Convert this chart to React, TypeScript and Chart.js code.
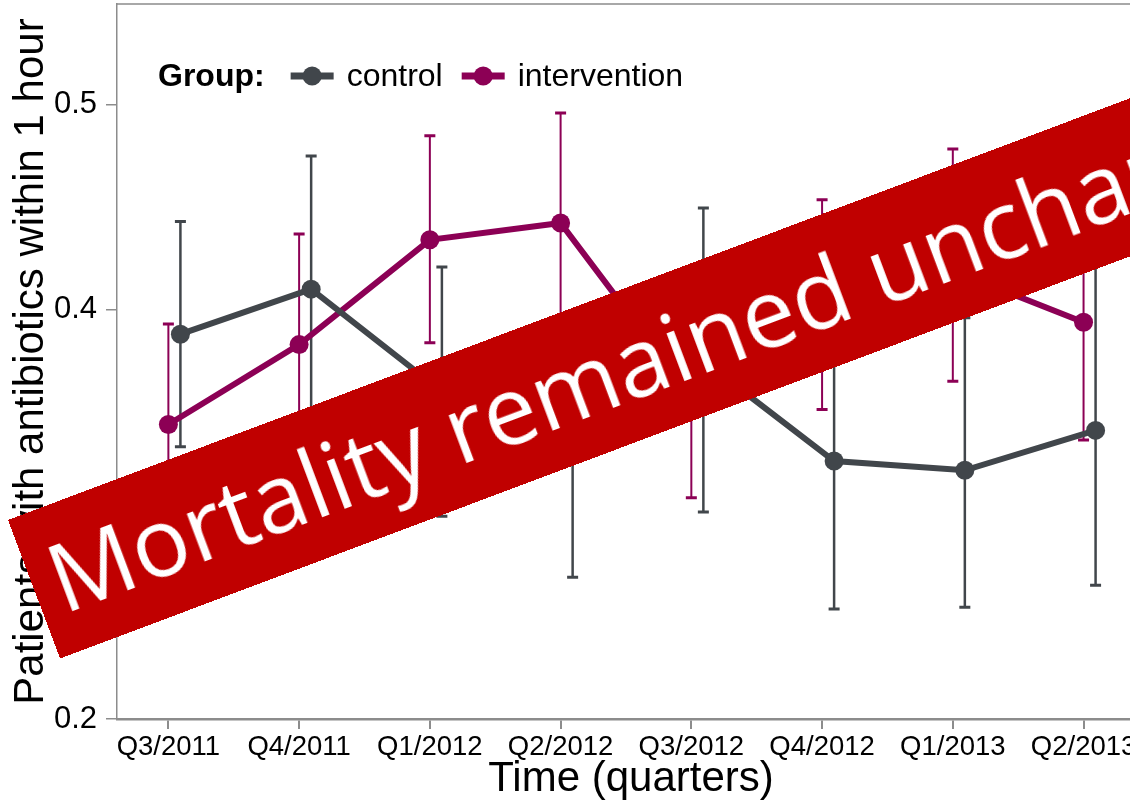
import React, { useEffect, useRef } from "react";
import { Chart, registerables } from "chart.js";

Chart.register(...registerables);

// ---- data ----
const categories = ["Q3/2011", "Q4/2011", "Q1/2012", "Q2/2012", "Q3/2012", "Q4/2012", "Q1/2013", "Q2/2013"];

const controlMean = [0.388, 0.410, 0.360, 0.334, 0.375, 0.326, 0.3215, 0.341];
const controlLow = [0.333, 0.3445, 0.299, 0.2693, 0.3011, 0.2537, 0.2546, 0.2654];
const controlHigh = [0.443, 0.4751, 0.4208, 0.398, 0.4496, 0.398, 0.396, 0.422];

const interventionMean = [0.3439, 0.3829, 0.4341, 0.4423, 0.3576, 0.4024, 0.419, 0.3938];
const interventionLow = [0.2948, 0.329, 0.3838, 0.3885, 0.3081, 0.3512, 0.365, 0.3363];
const interventionHigh = [0.393, 0.4369, 0.4849, 0.4961, 0.407, 0.4537, 0.4785, 0.4514];

const seriesNames = ["control", "intervention"];
const legendTitle = "Group:";
const yTicks = [0.2, 0.3, 0.4, 0.5];
const xTitle = "Time (quarters)";
const yTitle = "Patients with antibiotics within 1 hour";
const bannerText = "Mortality remained unchanged";

// ---- styling ----
const CONTROL_COLOR = "#41464b";
const INTERVENTION_COLOR = "#8c0055";
const AXIS_GRAY = "#8c8c8c";
const FONT = "'Liberation Sans', Arial, sans-serif";
const CONTROL_DODGE = 0.092;

export default function App() {
  const canvasRef = useRef<HTMLCanvasElement | null>(null);

  useEffect(() => {
    const canvas = canvasRef.current;
    if (!canvas) return;

    const series = [
      { name: seriesNames[0], mean: controlMean, lo: controlLow, hi: controlHigh, color: CONTROL_COLOR, dodge: CONTROL_DODGE, barWidth: 2.5 },
      { name: seriesNames[1], mean: interventionMean, lo: interventionLow, hi: interventionHigh, color: INTERVENTION_COLOR, dodge: 0, barWidth: 2 },
    ];

    const errorBarPlugin = {
      id: "errorBars",
      beforeDatasetsDraw(chart: any) {
        const { ctx, scales } = chart;
        const xs = scales.x;
        const ys = scales.y;
        ctx.save();
        series.forEach((s) => {
          ctx.strokeStyle = s.color;
          s.mean.forEach((_, i) => {
            const px = xs.getPixelForValue(i + s.dodge);
            const pLo = ys.getPixelForValue(s.lo[i]);
            const pHi = ys.getPixelForValue(s.hi[i]);
            ctx.lineWidth = s.barWidth;
            ctx.beginPath();
            ctx.moveTo(px, pLo);
            ctx.lineTo(px, pHi);
            ctx.stroke();
            ctx.lineWidth = 3;
            ctx.beginPath();
            ctx.moveTo(px - 5.5, pLo);
            ctx.lineTo(px + 5.5, pLo);
            ctx.moveTo(px - 5.5, pHi);
            ctx.lineTo(px + 5.5, pHi);
            ctx.stroke();
          });
        });
        ctx.restore();
      },
    };

    const frameLegendPlugin = {
      id: "frameLegend",
      afterDraw(chart: any) {
        const { ctx, chartArea } = chart;
        ctx.save();
        ctx.strokeStyle = AXIS_GRAY;
        ctx.lineWidth = 1.5;
        ctx.beginPath();
        ctx.moveTo(chartArea.left, chartArea.top);
        ctx.lineTo(chartArea.right, chartArea.top);
        ctx.lineTo(chartArea.right, chartArea.bottom);
        ctx.stroke();

        const baseY = 86;
        const midY = 76;
        let x = chartArea.left + 41;
        ctx.fillStyle = "#000";
        ctx.textBaseline = "alphabetic";
        ctx.textAlign = "left";
        ctx.font = `bold 32px ${FONT}`;
        ctx.fillText(legendTitle, x, baseY);
        x += ctx.measureText(legendTitle).width + 26;
        ctx.font = `32px ${FONT}`;
        series.forEach((s) => {
          ctx.strokeStyle = s.color;
          ctx.fillStyle = s.color;
          ctx.lineWidth = 7;
          ctx.beginPath();
          ctx.moveTo(x, midY);
          ctx.lineTo(x + 43, midY);
          ctx.stroke();
          ctx.beginPath();
          ctx.arc(x + 21.5, midY, 9.5, 0, Math.PI * 2);
          ctx.fill();
          x += 43 + 13;
          ctx.fillStyle = "#000";
          ctx.fillText(s.name, x, baseY);
          x += ctx.measureText(s.name).width + 19;
        });
        ctx.restore();
      },
    };

    const chart = new Chart(canvas, {
      type: "line",
      data: {
        datasets: series.map((s) => ({
          label: s.name,
          data: s.mean.map((v, i) => ({ x: i + s.dodge, y: v })),
          borderColor: s.color,
          backgroundColor: s.color,
          pointBackgroundColor: s.color,
          pointBorderWidth: 0,
          pointRadius: 9.5,
          borderWidth: 6,
          tension: 0,
          fill: false,
        })),
      },
      options: {
        animation: false,
        responsive: false,
        maintainAspectRatio: false,
        layout: { autoPadding: false, padding: { left: 0, top: 4, right: 15, bottom: 0 } },
        plugins: { legend: { display: false }, tooltip: { enabled: false } },
        scales: {
          x: {
            type: "linear",
            min: -0.393,
            max: 7.47,
            afterBuildTicks: (scale: any) => {
              scale.ticks = categories.map((_, i) => ({ value: i }));
            },
            afterFit: (scale: any) => {
              scale.height = 84;
              scale.paddingLeft = 0;
              scale.paddingRight = 0;
            },
            ticks: {
              autoSkip: false,
              maxRotation: 0,
              minRotation: 0,
              padding: 2,
              color: "#000",
              font: { family: FONT, size: 27.5 },
              callback: (v: any) => categories[Math.round(Number(v))] ?? "",
            },
            grid: { drawOnChartArea: false, drawTicks: true, tickLength: 10, color: AXIS_GRAY, lineWidth: 2 },
            border: { display: true, color: AXIS_GRAY, width: 2.5 },
            title: {
              display: true,
              text: xTitle,
              color: "#000",
              font: { family: FONT, size: 42 },
              padding: { top: 0, bottom: -2 },
            },
          },
          y: {
            type: "linear",
            min: 0.2,
            max: 0.5493,
            afterBuildTicks: (scale: any) => {
              scale.ticks = yTicks.map((v) => ({ value: v }));
            },
            afterFit: (scale: any) => {
              scale.width = 117;
              scale.paddingTop = 0;
              scale.paddingBottom = 0;
            },
            ticks: {
              padding: 9,
              color: "#000",
              font: { family: FONT, size: 31 },
              callback: (v: any) => Number(v).toFixed(1),
            },
            grid: { drawOnChartArea: false, drawTicks: true, tickLength: 11, color: AXIS_GRAY, lineWidth: 1.5 },
            border: { display: true, color: AXIS_GRAY, width: 1.5 },
            title: {
              display: true,
              text: yTitle,
              color: "#000",
              font: { family: FONT, size: 42 },
              padding: { top: 6, bottom: 0 },
            },
          },
        },
      },
      plugins: [errorBarPlugin, frameLegendPlugin],
    } as any);

    return () => {
      chart.destroy();
    };
  }, []);

  return (
    <div
      style={{
        position: "fixed",
        left: 0,
        top: 0,
        width: 1130,
        height: 803,
        overflow: "hidden",
        background: "#fff",
      }}
    >
      <canvas
        ref={canvasRef}
        width={1160}
        height={803}
        style={{ position: "absolute", left: 0, top: 0, width: 1160, height: 803 }}
      />
      <div
        style={{
          position: "absolute",
          left: 8.3,
          top: 520,
          width: 1400,
          height: 148,
          background: "#c00000",
          transformOrigin: "0 0",
          transform: "rotate(-20.6deg)",
          color: "#fff",
          fontFamily: "'Open Sans', sans-serif",
          fontSize: 95,
          lineHeight: "142px",
          paddingLeft: 19,
          whiteSpace: "nowrap",
          boxSizing: "border-box",
        }}
      >
        {bannerText}
      </div>
    </div>
  );
}
